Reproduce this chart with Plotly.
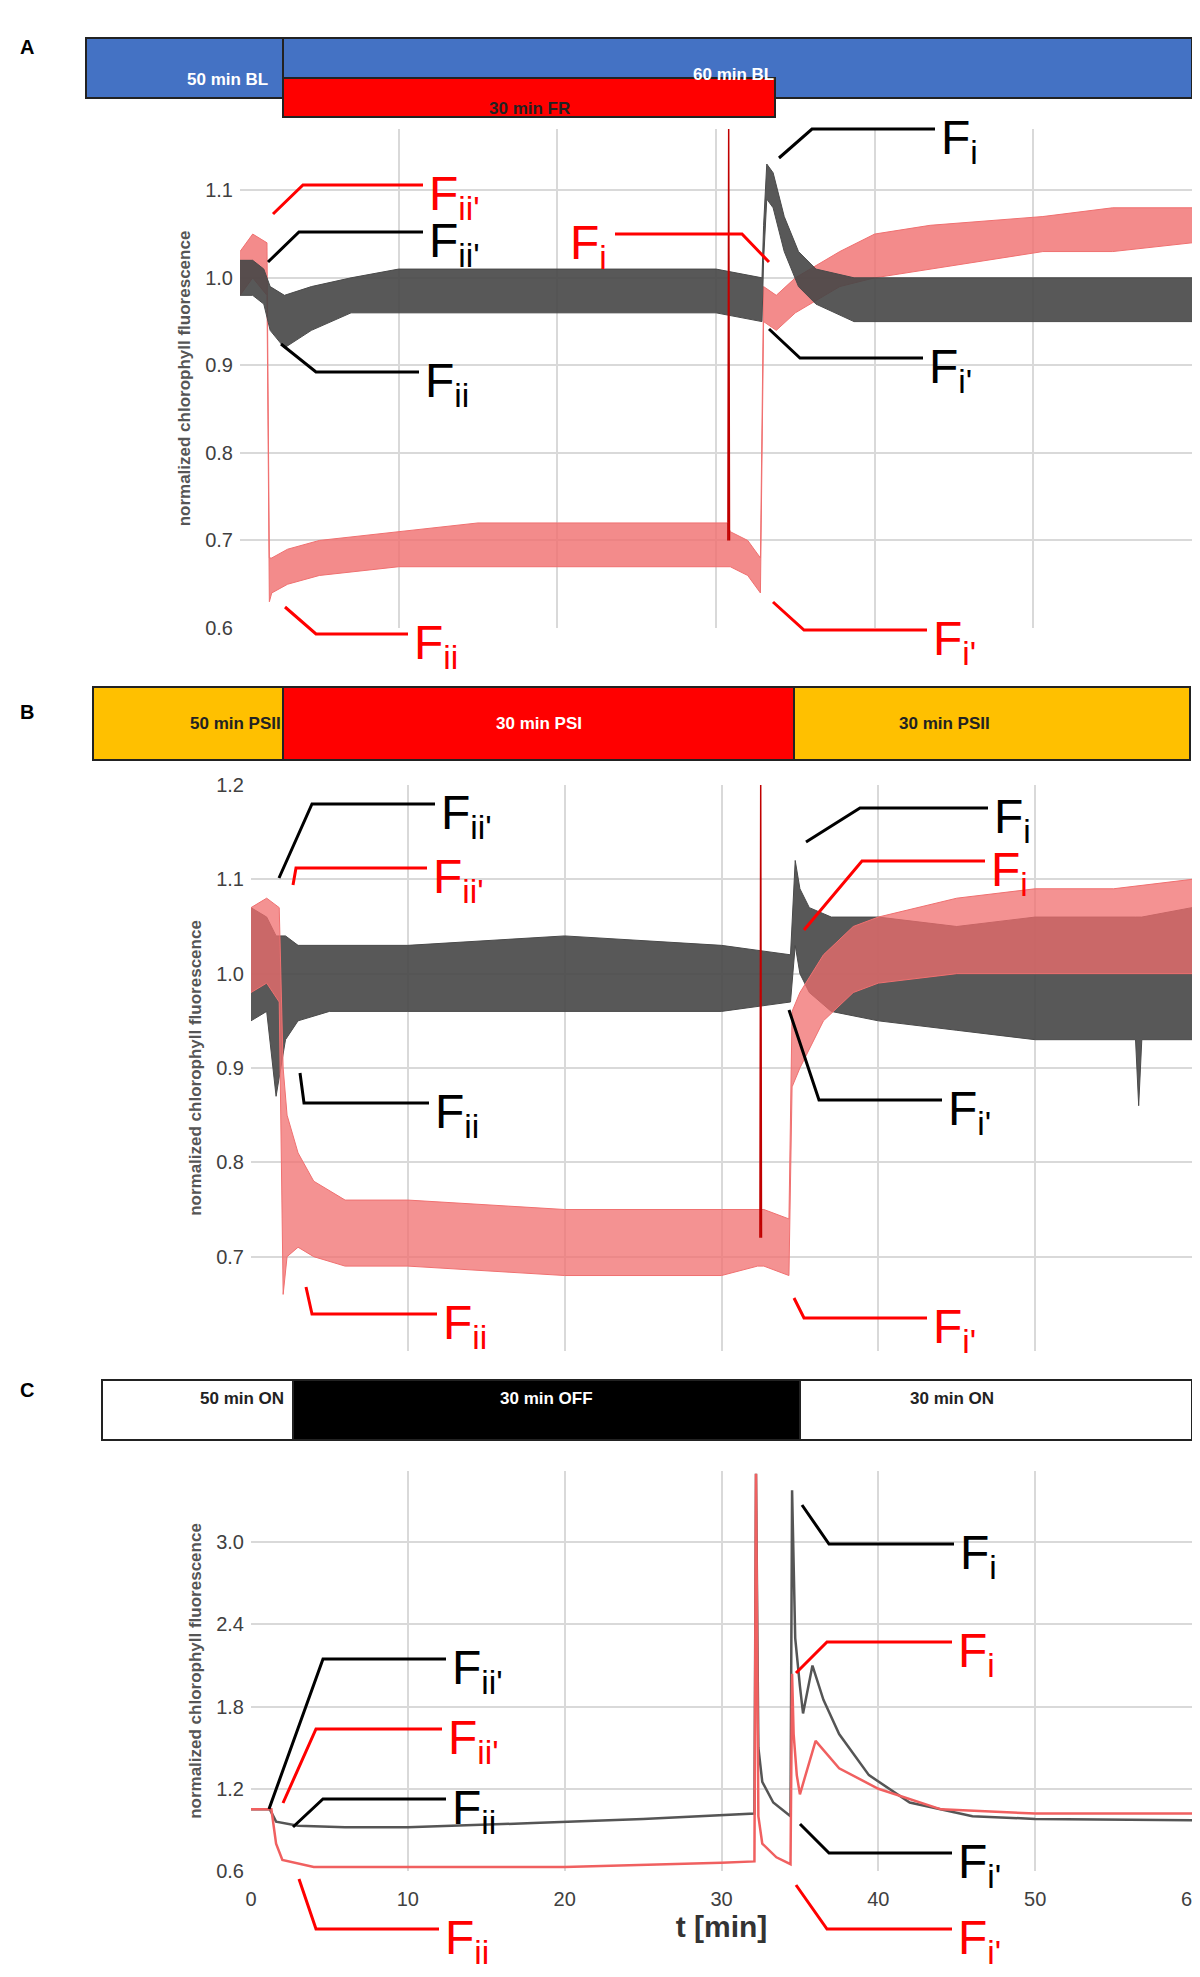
import plotly.graph_objects as go

W, H = 1200, 1977

# ---------------- data ----------------
# Panel A  (black = control, red = FR treated) : time, lower / upper envelope of noisy trace
A_blk_t = [0, 0.8, 1.5, 1.9, 2.8, 4.5, 7, 10, 15, 20, 25, 30, 32.9, 33.0, 33.2, 33.6, 34.3, 35.2, 36.3, 38.7, 45, 50, 55, 60]
A_blk_lo = [0.98, 0.98, 0.97, 0.94, 0.92, 0.94, 0.96, 0.96, 0.96, 0.96, 0.96, 0.96, 0.95, 1.02, 1.09, 1.08, 1.03, 0.99, 0.97, 0.95, 0.95, 0.95, 0.95, 0.95]
A_blk_hi = [1.02, 1.02, 1.01, 0.99, 0.98, 0.99, 1.0, 1.01, 1.01, 1.01, 1.01, 1.01, 1.0, 1.06, 1.13, 1.12, 1.07, 1.03, 1.01, 1.0, 1.0, 1.0, 1.0, 1.0]
A_red_t = [0, 0.8, 1.7, 1.85, 2.0, 3, 5, 10, 15, 20, 25, 30.7, 30.9, 32.0, 32.8, 33.0, 33.8, 35, 37.8, 40, 43.5, 50.6, 55, 60]
A_red_lo = [0.98, 1.0, 0.98, 0.63, 0.64, 0.65, 0.66, 0.67, 0.67, 0.67, 0.67, 0.67, 0.67, 0.66, 0.64, 0.95, 0.94, 0.96, 0.99, 1.0, 1.01, 1.03, 1.03, 1.04]
A_red_hi = [1.03, 1.05, 1.04, 0.68, 0.68, 0.69, 0.70, 0.71, 0.72, 0.72, 0.72, 0.72, 0.71, 0.70, 0.68, 0.99, 0.98, 1.0, 1.03, 1.05, 1.06, 1.07, 1.08, 1.08]
A_spike_t = [30.75, 30.8, 30.85]
A_spike_y = [0.70, 1.17, 0.70]

# Panel B
B_blk_t = [0, 1.0, 1.6, 2.2, 3, 5, 10, 20, 30, 34.4, 34.7, 35.0, 35.6, 37, 40, 45, 50, 56.4, 56.6, 56.8, 60]
B_blk_lo = [0.95, 0.96, 0.87, 0.93, 0.95, 0.96, 0.96, 0.96, 0.96, 0.97, 1.03, 1.0, 0.98, 0.96, 0.95, 0.94, 0.93, 0.93, 0.86, 0.93, 0.93]
B_blk_hi = [1.07, 1.06, 1.04, 1.04, 1.03, 1.03, 1.03, 1.04, 1.03, 1.02, 1.12, 1.09, 1.07, 1.06, 1.06, 1.05, 1.06, 1.06, 1.06, 1.06, 1.07]
B_red_t = [0, 1.0, 1.8, 2.05, 2.3, 3, 4, 6, 10, 20, 30, 32.3, 32.7, 34.3, 34.5, 35.0, 36.5, 38.4, 40, 45, 50, 55, 60]
B_red_lo = [0.98, 0.99, 0.97, 0.66, 0.70, 0.71, 0.70, 0.69, 0.69, 0.68, 0.68, 0.69, 0.69, 0.68, 0.88, 0.90, 0.95, 0.98, 0.99, 1.0, 1.0, 1.0, 1.0]
B_red_hi = [1.07, 1.08, 1.07, 0.90, 0.85, 0.81, 0.78, 0.76, 0.76, 0.75, 0.75, 0.75, 0.75, 0.74, 0.96, 0.98, 1.02, 1.05, 1.06, 1.08, 1.09, 1.09, 1.10]
B_spike_t = [32.45, 32.5, 32.55]
B_spike_y = [0.72, 1.20, 0.72]

# Panel C (thin traces)
C_blk_t = [0, 1.2, 1.6, 3, 6, 10, 18, 25, 32.1, 32.2, 32.35, 32.6, 33.3, 34.4, 34.5, 34.7, 35.0, 35.2, 35.8, 36.5, 37.5, 39.4, 42, 46, 50, 60]
C_blk_y = [1.05, 1.05, 0.96, 0.93, 0.92, 0.92, 0.95, 0.98, 1.02, 3.5, 1.5, 1.25, 1.1, 1.0, 3.38, 2.3, 1.95, 1.75, 2.1, 1.85, 1.6, 1.3, 1.1, 1.0, 0.98, 0.97]
C_red_t = [0, 1.3, 1.6, 2.0, 4, 10, 20, 30, 32.1, 32.2, 32.35, 32.6, 33.5, 34.4, 34.5, 34.6, 34.8, 35.0, 35.5, 36.0, 37.5, 40, 44, 50, 60]
C_red_y = [1.05, 1.05, 0.8, 0.68, 0.63, 0.63, 0.63, 0.66, 0.67, 3.5, 1.0, 0.8, 0.7, 0.65, 2.04, 1.6, 1.3, 1.16, 1.35, 1.55, 1.35, 1.2, 1.05, 1.02, 1.02]

X_TICKS = [0, 10, 20, 30, 40, 50, 60]

# treatment bars: (x0, x1, y0, y1, fill, label, label colour) in page pixels
BARS = [
    (78, 1184, 30, 90, "#4472c4", "", "white"),
    (78, 275, 30, 90, "#4472c4", "50 min BL", "white"),
    (275, 767, 70, 109, "#ff0000", "30 min FR", "#222222"),
    (85, 275, 679, 752, "#ffc000", "50 min PSII", "#222222"),
    (275, 786, 679, 752, "#ff0000", "30 min PSI", "white"),
    (786, 1182, 679, 752, "#ffc000", "30 min PSII", "#222222"),
    (94, 285, 1372, 1432, "white", "50 min ON", "#222222"),
    (285, 792, 1372, 1432, "black", "30 min OFF", "white"),
    (792, 1184, 1372, 1432, "white", "30 min ON", "#222222"),
]

# leader labels: polyline in page pixels, label text, colour
LABELS = [
    ([(265, 206), (295, 177), (415, 177)], "F<sub>ii'</sub>", "red"),
    ([(260, 254), (291, 224), (415, 224)], "F<sub>ii'</sub>", "black"),
    ([(273, 336), (308, 364), (411, 364)], "F<sub>ii</sub>", "black"),
    ([(277, 599), (308, 626), (400, 626)], "F<sub>ii</sub>", "red"),
    ([(771, 150), (804, 121), (927, 121)], "F<sub>i</sub>", "black"),
    ([(761, 254), (734, 226), (607, 226)], "F<sub>i</sub>", "red"),
    ([(761, 321), (792, 350), (915, 350)], "F<sub>i'</sub>", "black"),
    ([(765, 594), (796, 622), (919, 622)], "F<sub>i'</sub>", "red"),
    ([(271, 870), (304, 796), (427, 796)], "F<sub>ii'</sub>", "black"),
    ([(285, 877), (288, 860), (419, 860)], "F<sub>ii'</sub>", "red"),
    ([(292, 1065), (296, 1095), (421, 1095)], "F<sub>ii</sub>", "black"),
    ([(298, 1279), (304, 1306), (429, 1306)], "F<sub>ii</sub>", "red"),
    ([(798, 834), (852, 800), (980, 800)], "F<sub>i</sub>", "black"),
    ([(796, 922), (854, 853), (977, 853)], "F<sub>i</sub>", "red"),
    ([(781, 1002), (811, 1092), (934, 1092)], "F<sub>i'</sub>", "black"),
    ([(786, 1290), (796, 1310), (919, 1310)], "F<sub>i'</sub>", "red"),
    ([(261, 1801), (315, 1651), (438, 1651)], "F<sub>ii'</sub>", "black"),
    ([(275, 1795), (308, 1721), (434, 1721)], "F<sub>ii'</sub>", "red"),
    ([(285, 1819), (315, 1791), (438, 1791)], "F<sub>ii</sub>", "black"),
    ([(291, 1871), (308, 1921), (431, 1921)], "F<sub>ii</sub>", "red"),
    ([(794, 1497), (821, 1536), (946, 1536)], "F<sub>i</sub>", "black"),
    ([(788, 1665), (819, 1634), (944, 1634)], "F<sub>i</sub>", "red"),
    ([(792, 1816), (821, 1845), (944, 1845)], "F<sub>i'</sub>", "black"),
    ([(788, 1877), (819, 1921), (944, 1921)], "F<sub>i'</sub>", "red"),
]

BLK_LINE, BLK_FILL = "#4a4a4a", "rgba(70,70,70,0.9)"
RED_LINE, RED_FILL = "#f07070", "rgba(240,110,110,0.8)"


def px(x):
    return x / W


def py(y):
    return 1 - y / H


fig = go.Figure()


def band(t, lo, hi, line, fill, xa, ya):
    fig.add_trace(go.Scatter(x=t, y=lo, mode="lines", line=dict(color=line, width=1),
                             xaxis=xa, yaxis=ya, showlegend=False, hoverinfo="skip"))
    fig.add_trace(go.Scatter(x=t, y=hi, mode="lines", line=dict(color=line, width=1),
                             fill="tonexty", fillcolor=fill,
                             xaxis=xa, yaxis=ya, showlegend=False, hoverinfo="skip"))


# Panel A
band(A_red_t, A_red_lo, A_red_hi, RED_LINE, RED_FILL, "x", "y")
band(A_blk_t, A_blk_lo, A_blk_hi, BLK_LINE, BLK_FILL, "x", "y")
fig.add_trace(go.Scatter(x=A_spike_t, y=A_spike_y, mode="lines", line=dict(color="#c00000", width=1.5),
                         xaxis="x", yaxis="y", showlegend=False))
# Panel B
band(B_blk_t, B_blk_lo, B_blk_hi, BLK_LINE, BLK_FILL, "x2", "y2")
band(B_red_t, B_red_lo, B_red_hi, RED_LINE, "rgba(240,110,110,0.75)", "x2", "y2")
fig.add_trace(go.Scatter(x=B_spike_t, y=B_spike_y, mode="lines", line=dict(color="#c00000", width=1.5),
                         xaxis="x2", yaxis="y2", showlegend=False))
# Panel C
fig.add_trace(go.Scatter(x=C_blk_t, y=C_blk_y, mode="lines", line=dict(color="#555555", width=2.5),
                         xaxis="x3", yaxis="y3", showlegend=False))
fig.add_trace(go.Scatter(x=C_red_t, y=C_red_y, mode="lines", line=dict(color="#f06060", width=2.5),
                         xaxis="x3", yaxis="y3", showlegend=False))

tickfont = dict(family="Liberation Sans", size=20, color="#404040")
ytitle = dict(text="<b>normalized chlorophyll fluorescence</b>",
              font=dict(family="Liberation Sans", size=17, color="#555555"))
grid = "#d9d9d9"

xcommon = dict(range=[0, 60], tickvals=X_TICKS, showgrid=True, gridcolor=grid, gridwidth=1.5,
               zeroline=False, showline=False, ticks="")
ycommon = dict(showgrid=True, gridcolor=grid, gridwidth=1.5, zeroline=False, showline=False,
               tickfont=tickfont, tickformat=".1f", ticks="", title=ytitle, ticklabelstandoff=6)

fig.update_layout(
    width=W, height=H, margin=dict(l=0, r=0, t=0, b=0, autoexpand=False),
    plot_bgcolor="white", paper_bgcolor="white",
    xaxis=dict(xcommon, domain=[px(232), px(1184)], anchor="y", showticklabels=False),
    yaxis=dict(ycommon, domain=[py(620), py(121)], anchor="x", range=[0.6, 1.17],
               tickvals=[0.6, 0.7, 0.8, 0.9, 1.0, 1.1], title_standoff=10),
    xaxis2=dict(xcommon, domain=[px(243), px(1184)], anchor="y2", showticklabels=False),
    yaxis2=dict(ycommon, domain=[py(1343), py(777)], anchor="x2", range=[0.6, 1.2],
                tickvals=[0.7, 0.8, 0.9, 1.0, 1.1, 1.2], title_standoff=10),
    xaxis3=dict(xcommon, domain=[px(243), px(1184)], anchor="y3", tickfont=tickfont,
                ticklabelstandoff=14,
                title=dict(text="<b>t [min]</b>", font=dict(family="Liberation Sans", size=30, color="#333333"),
                           standoff=6)),
    yaxis3=dict(ycommon, domain=[py(1863), py(1463)], anchor="x3", range=[0.6, 3.52],
                tickvals=[0.6, 1.2, 1.8, 2.4, 3.0], title_standoff=10),
)

shapes = []
annotations = []
for x0, x1, y0, y1, col, label, tcol in BARS:
    shapes.append(dict(type="rect", xref="paper", yref="paper", x0=px(x0), x1=px(x1),
                       y0=py(y1), y1=py(y0), fillcolor=col, line=dict(color="#222222", width=2)))
    if label:
        annotations.append(dict(xref="paper", yref="paper", x=px((x0 + x1) / 2), y=py((y0 + y1) / 2),
                                text=f"<b>{label}</b>", showarrow=False,
                                font=dict(family="Liberation Sans", size=17, color=tcol)))
annotations.append(dict(xref="paper", yref="paper", x=px(725), y=py(55), text="<b>60 min BL</b>",
                        showarrow=False, font=dict(family="Liberation Sans", size=17, color="white")))

for letter, yy in [("A", 26), ("B", 704), ("C", 1395)]:
    annotations.append(dict(xref="paper", yref="paper", x=px(10), y=py(yy), xanchor="left",
                            text=f"<b>{letter}</b>", showarrow=False,
                            font=dict(family="Liberation Sans", size=20, color="black")))

for pts, text, col in LABELS:
    path = "M " + " L ".join(f"{px(x)},{py(y)}" for x, y in pts)
    shapes.append(dict(type="path", xref="paper", yref="paper", path=path,
                       line=dict(color=col, width=3)))
    ex, ey = pts[-1]
    if ex < pts[0][0]:
        annotations.append(dict(xref="paper", yref="paper", x=px(ex - 6), y=py(ey + 12),
                                xanchor="right", yanchor="middle", text=text, showarrow=False,
                                font=dict(family="Liberation Sans", size=48, color=col)))
    else:
        annotations.append(dict(xref="paper", yref="paper", x=px(ex + 4), y=py(ey + 12),
                                xanchor="left", yanchor="middle", text=text, showarrow=False,
                                font=dict(family="Liberation Sans", size=48, color=col)))

fig.update_layout(shapes=shapes, annotations=annotations)
fig.write_html("out.html")
